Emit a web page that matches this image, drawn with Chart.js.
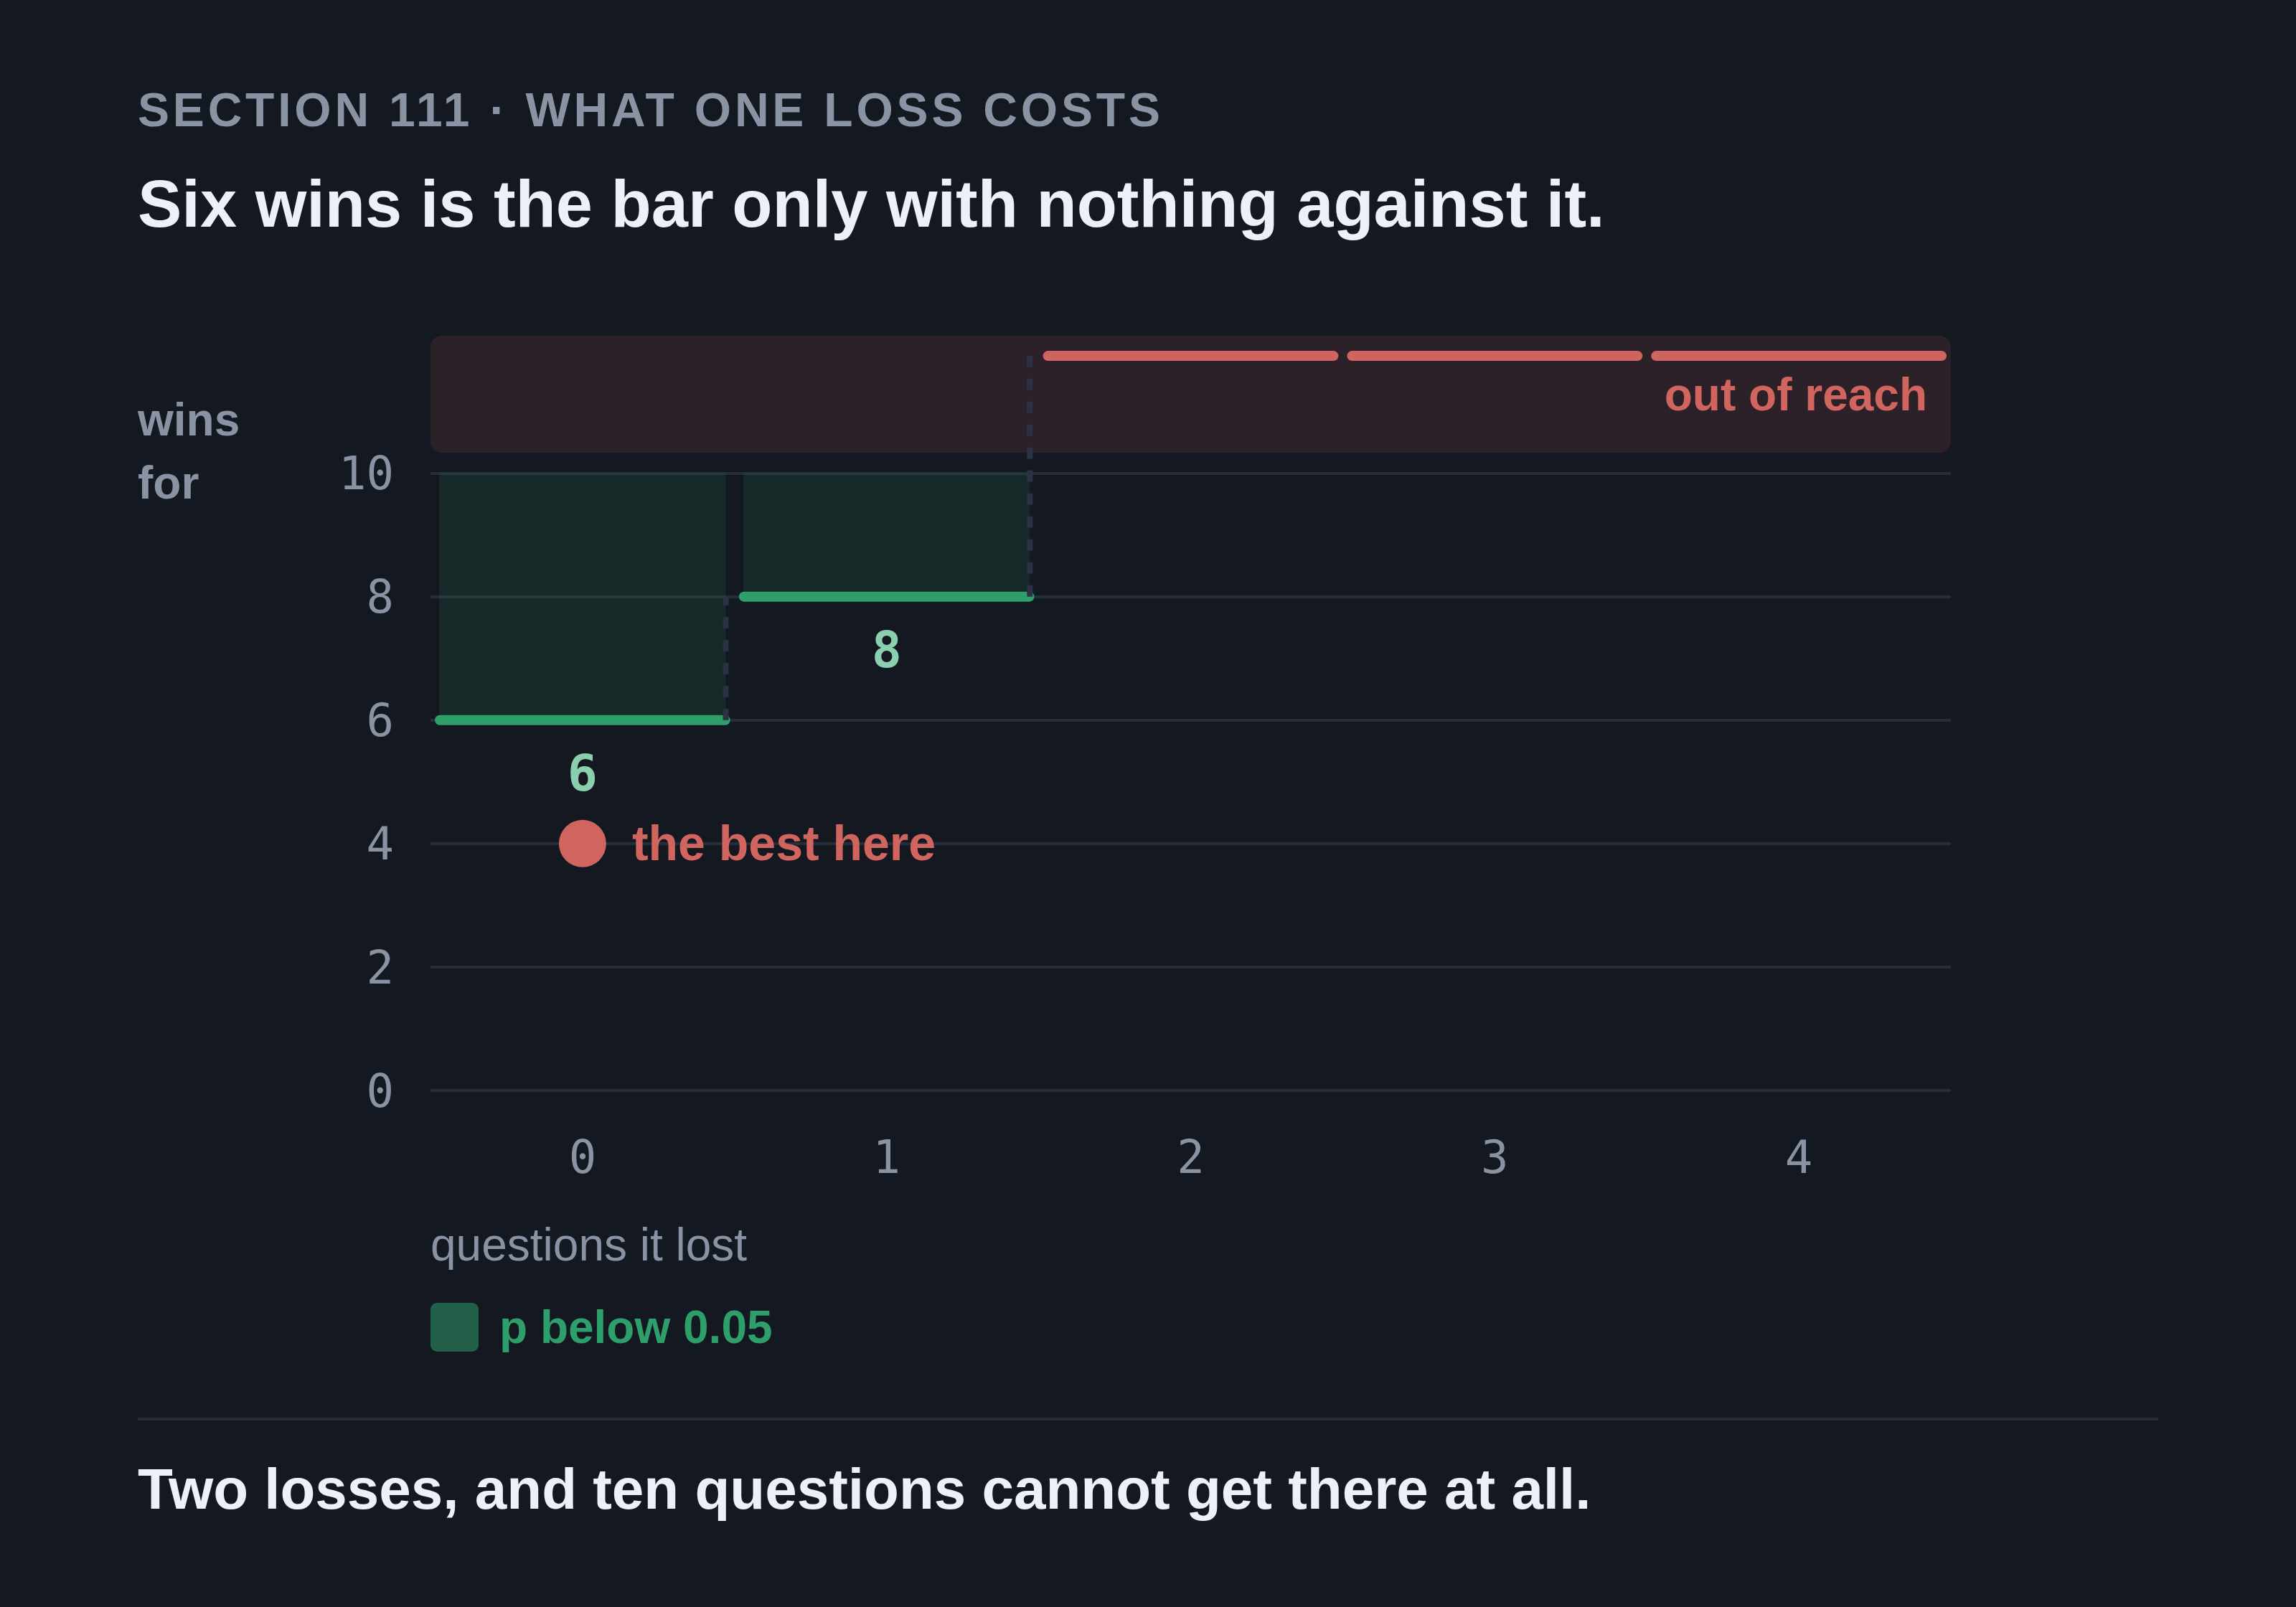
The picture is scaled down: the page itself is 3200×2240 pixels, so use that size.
<!DOCTYPE html>
<html lang="en">
<head>
<meta charset="UTF-8">
<title>What one loss costs</title>
<script src="https://cdn.jsdelivr.net/npm/chart.js"></script>
<style>
    html, body {
        margin: 0;
        padding: 0;
        background: #141820;
        width: 3200px;
        height: 2240px;
        overflow: hidden;
        font-family: "Liberation Sans", Arial, sans-serif;
    }

    #chart {
        position: absolute;
        left: 0;
        top: 0;
    }

    .txt {
        position: absolute;
        white-space: nowrap;
        line-height: 1;
    }

    .eyebrow {
        left: 192px;
        top: 120px;
        font-size: 66px;
        font-weight: bold;
        letter-spacing: 4.8px;
        color: #8a93a3;
    }

    .title {
        left: 192px;
        top: 238px;
        font-size: 92px;
        font-weight: bold;
        color: #eef0f7;
    }

    .ylab {
        left: 192px;
        font-size: 64px;
        font-weight: bold;
        color: #8a93a3;
    }

    .xlab {
        left: 600px;
        top: 1703px;
        font-size: 64px;
        color: #8a93a3;
    }

    .legend {
        left: 600px;
        top: 1816px;
        height: 68px;
        display: flex;
        align-items: center;
        font-size: 64px;
        font-weight: bold;
        color: #2e9e6b;
    }

    .legend .sw {
        width: 67px;
        height: 68px;
        border-radius: 9px;
        background: #22604a;
        margin-right: 29px;
    }

    .rule {
        position: absolute;
        left: 192px;
        top: 1976px;
        width: 2816px;
        height: 4px;
        background: #262c38;
    }

    .footer {
        left: 192px;
        top: 2036px;
        font-size: 80px;
        font-weight: bold;
        color: #eef0f7;
    }
</style>
</head>
<body>

<canvas id="chart" width="3200" height="2240"></canvas>

<div class="txt eyebrow">SECTION 111 · WHAT ONE LOSS COSTS</div>
<div class="txt title">Six wins is the bar only with nothing against it.</div>
<div class="txt ylab" style="top:553px">wins</div>
<div class="txt ylab" style="top:641px">for</div>
<div class="txt xlab">questions it lost</div>
<div class="txt legend"><span class="sw"></span>p below 0.05</div>
<div class="rule"></div>
<div class="txt footer">Two losses, and ten questions cannot get there at all.</div>

<script>
// questions lost -> wins needed for p below 0.05 (null = cannot be reached)
const lossCounts = ['0', '1', '2', '3', '4'];
const winsNeeded = [6, 8, null, null, null];
const totalQuestions = 10;
const bestHere = [4, null, null, null, null];
const yTicks = [0, 2, 4, 6, 8, 10];

const MONO = '"DejaVu Sans Mono", monospace';
const SANS = '"Liberation Sans", Arial, sans-serif';
const RED = '#d0645e';
const GREEN = '#2e9e6b';
const MUTED = '#8a93a3';

// where the "out of reach" step sits, above the axis top
const outOfReachLevel = 11.9;

const overlay = {
    id: 'overlay',
    beforeDatasetsDraw(chart) {
        const { ctx, chartArea, scales: { y } } = chart;
        const top = y.getPixelForValue(12.23);
        const bottom = y.getPixelForValue(10.33);
        ctx.save();
        ctx.fillStyle = '#2c2029';
        ctx.beginPath();
        ctx.roundRect(chartArea.left, top, chartArea.right - chartArea.left, bottom - top, 16);
        ctx.fill();
        ctx.restore();
    },
    afterDatasetsDraw(chart) {
        const { ctx, chartArea, scales: { x, y } } = chart;
        const bars = chart.getDatasetMeta(0).data;
        const step = x.getPixelForValue(1) - x.getPixelForValue(0);
        const level = i => winsNeeded[i] == null ? outOfReachLevel : winsNeeded[i];

        ctx.save();

        // y tick labels (drawn here so they sit on the gridline like the original)
        ctx.fillStyle = MUTED;
        ctx.font = '64px ' + MONO;
        ctx.textAlign = 'right';
        ctx.textBaseline = 'middle';
        y.ticks.forEach(t => {
            ctx.fillText(String(t.value), chartArea.left - 51, y.getPixelForValue(t.value) + 6);
        });

        // step lines: green where reachable, red where not
        ctx.lineWidth = 14;
        ctx.lineCap = 'round';
        lossCounts.forEach((c, i) => {
            const cx = x.getPixelForValue(i);
            const py = y.getPixelForValue(level(i));
            ctx.strokeStyle = winsNeeded[i] == null ? RED : GREEN;
            ctx.beginPath();
            ctx.moveTo(cx - step / 2 + 13, py);
            ctx.lineTo(cx + step / 2 - 13, py);
            ctx.stroke();
        });

        // dashed risers between one step and the next
        ctx.strokeStyle = '#2c3244';
        ctx.lineWidth = 8;
        ctx.lineCap = 'butt';
        ctx.setLineDash([16, 16]);
        for (let i = 0; i < lossCounts.length - 1; i++) {
            if (winsNeeded[i] == null) continue;
            const bx = bars[i].x + bars[i].width / 2;
            ctx.beginPath();
            ctx.moveTo(bx, y.getPixelForValue(level(i)));
            ctx.lineTo(bx, y.getPixelForValue(level(i + 1)));
            ctx.stroke();
        }
        ctx.setLineDash([]);

        // value labels under each reachable step
        ctx.fillStyle = '#8ccfae';
        ctx.font = 'bold 70px ' + MONO;
        ctx.textAlign = 'center';
        winsNeeded.forEach((v, i) => {
            if (v == null) return;
            ctx.fillText(String(v), x.getPixelForValue(i), y.getPixelForValue(v) + 80);
        });

        // annotations
        ctx.fillStyle = RED;
        ctx.font = 'bold 64px ' + SANS;
        ctx.textAlign = 'right';
        ctx.fillText('out of reach', chartArea.right - 33, y.getPixelForValue(11.27) + 4);

        ctx.textAlign = 'left';
        ctx.font = 'bold 68px ' + SANS;
        const bi = bestHere.findIndex(v => v != null);
        ctx.fillText('the best here', x.getPixelForValue(bi) + 69, y.getPixelForValue(bestHere[bi]) + 4);

        ctx.restore();
    }
};

new Chart(document.getElementById('chart'), {
    type: 'bar',
    data: {
        labels: lossCounts,
        datasets: [{
            data: winsNeeded.map(v => v == null ? null : [v, totalQuestions]),
            backgroundColor: 'rgba(46, 158, 107, 0.14)',
            borderWidth: 0,
            barPercentage: 0.942,
            categoryPercentage: 1
        }, {
            type: 'line',
            data: bestHere,
            showLine: false,
            pointRadius: 33,
            pointBackgroundColor: RED,
            pointBorderWidth: 0
        }]
    },
    options: {
        responsive: false,
        devicePixelRatio: 1,
        animation: false,
        layout: { padding: { left: 192, right: 481, top: 466, bottom: 580 } },
        plugins: { legend: { display: false }, tooltip: { enabled: false } },
        scales: {
            x: {
                grid: { display: false },
                border: { display: false },
                ticks: { color: MUTED, font: { family: MONO, size: 64 }, padding: 52 },
                afterFit: axis => { axis.height = 140; }
            },
            y: {
                min: 0,
                max: 12.25,
                afterBuildTicks: axis => { axis.ticks = yTicks.map(v => ({ value: v })); },
                grid: { color: '#262d3a', lineWidth: 4, drawTicks: false },
                border: { display: false },
                ticks: { display: false },
                afterFit: axis => { axis.width = 408; }
            }
        }
    },
    plugins: [overlay]
});
</script>
</body>
</html>
